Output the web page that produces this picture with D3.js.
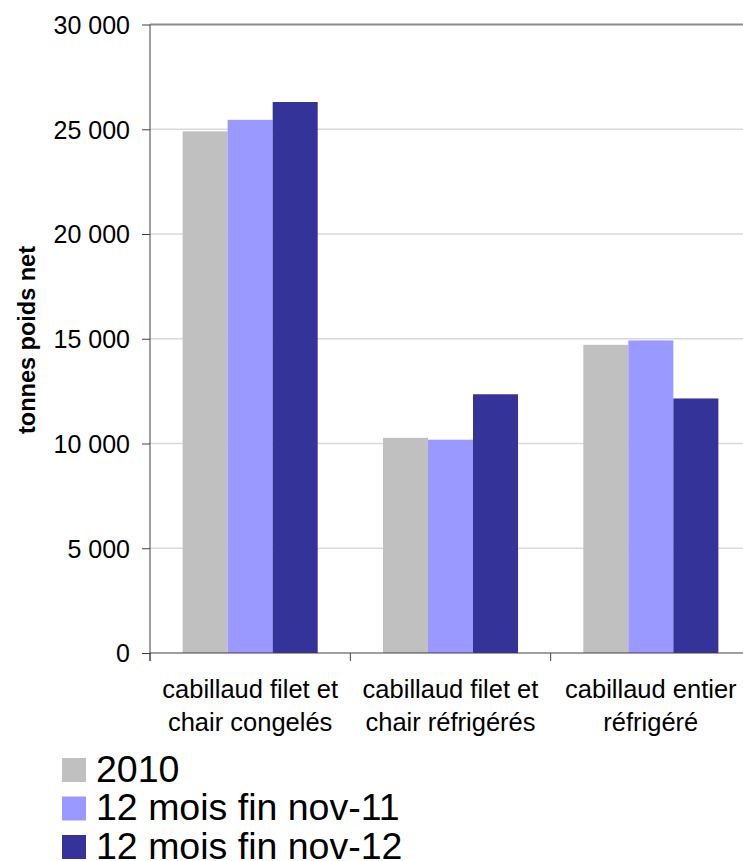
<!DOCTYPE html>
<html>
<head>
<meta charset="utf-8">
<script src="https://cdn.jsdelivr.net/npm/d3@7"></script>
<style>
  html, body { margin: 0; padding: 0; background: #ffffff; }
  svg { display: block; font-family: "Liberation Sans", Arial, sans-serif; }
</style>
</head>
<body>
<svg id="chart" width="743" height="861"></svg>
<script>
// ---- data ----
const categories = [
  ["cabillaud filet et", "chair congelés"],
  ["cabillaud filet et", "chair réfrigérés"],
  ["cabillaud entier", "réfrigéré"]
];
const seriesNames = ["2010", "12 mois fin nov-11", "12 mois fin nov-12"];
const values2010 = [24900, 10270, 14710];
const valuesNov11 = [25450, 10180, 14920];
const valuesNov12 = [26300, 12350, 12150];
const seriesColors = ["#C0C0C0", "#9999FF", "#333399"];
const yTicks = [0, 5000, 10000, 15000, 20000, 25000, 30000];
const yTitle = "tonnes poids net";

const seriesValues = [values2010, valuesNov11, valuesNov12];

// ---- layout ----
const svg = d3.select("#chart");
const plotLeft = 150, plotRight = 751, plotTop = 24.5, plotBottom = 653;

const catKeys = categories.map((c, i) => i);
const x0 = d3.scaleBand().domain(catKeys).range([plotLeft, plotRight]).paddingInner(0).paddingOuter(0);
const x1 = d3.scaleBand().domain(d3.range(seriesNames.length)).range([0, x0.bandwidth()])
  .paddingInner(0).paddingOuter(0.725);
const y = d3.scaleLinear().domain([0, 30000]).range([plotBottom, plotTop]);

const loc = d3.formatLocale({ decimal: ",", thousands: " ", grouping: [3], currency: ["", ""] });
const fmt = loc.format(",");

// gridlines
svg.append("g").selectAll("line").data(yTicks.filter(t => t > 0 && t < 30000)).join("line")
  .attr("x1", plotLeft).attr("x2", plotRight)
  .attr("y1", d => y(d)).attr("y2", d => y(d))
  .attr("stroke", "#d9d9d9").attr("stroke-width", 1.5);
// top border line
svg.append("line").attr("x1", plotLeft).attr("x2", plotRight)
  .attr("y1", y(30000)).attr("y2", y(30000))
  .attr("stroke", "#8c8c8c").attr("stroke-width", 2);

// bars
const groups = svg.append("g").selectAll("g").data(catKeys).join("g")
  .attr("transform", d => `translate(${x0(d)},0)`);
groups.selectAll("rect")
  .data(ci => seriesValues.map((vals, si) => ({ si, v: vals[ci] })))
  .join("rect")
  .attr("x", d => x1(d.si))
  .attr("width", x1.bandwidth())
  .attr("y", d => y(d.v))
  .attr("height", d => y(0) - y(d.v))
  .attr("fill", d => seriesColors[d.si]);

// y axis
const yAxis = d3.axisLeft(y).tickValues(yTicks).tickFormat(fmt).tickSize(8).tickPadding(12);
const gy = svg.append("g").attr("transform", `translate(${plotLeft},0)`).call(yAxis);
gy.select(".domain").attr("stroke", "#404040").attr("d", `M0,${plotTop}V${plotBottom + 8}`);
gy.selectAll(".tick line").attr("stroke", "#404040");
gy.selectAll(".tick text").attr("font-size", 25).attr("fill", "#000")
  .attr("font-family", "'Liberation Sans', Arial, sans-serif").attr("dy", "0.35em");

// x axis line and category ticks
const xTickPos = catKeys.map(k => x0(k)).concat([plotRight]);
svg.append("line").attr("x1", plotLeft).attr("x2", plotRight).attr("y1", plotBottom).attr("y2", plotBottom)
  .attr("stroke", "#404040").attr("stroke-width", 1);
svg.append("g").selectAll("line").data(xTickPos).join("line")
  .attr("x1", d => d).attr("x2", d => d).attr("y1", plotBottom).attr("y2", plotBottom + 8)
  .attr("stroke", "#404040");

// category labels
const catText = svg.append("g").selectAll("text").data(catKeys).join("text")
  .attr("x", d => x0(d) + x0.bandwidth() / 2)
  .attr("y", 698)
  .attr("text-anchor", "middle")
  .attr("font-size", 25.5)
  .attr("fill", "#000");
catText.selectAll("tspan").data(d => categories[d]).join("tspan")
  .attr("x", function () { return d3.select(this.parentNode).attr("x"); })
  .attr("dy", (d, i) => i === 0 ? 0 : 33)
  .text(d => d);

// y title
svg.append("text")
  .attr("transform", `translate(35,340) rotate(-90)`)
  .attr("text-anchor", "middle")
  .attr("font-size", 23.5)
  .attr("font-weight", "bold")
  .attr("fill", "#000")
  .text(yTitle);

// legend
const legend = svg.append("g").selectAll("g").data(seriesNames).join("g")
  .attr("transform", (d, i) => `translate(62,${758 + i * 38.5})`);
legend.append("rect").attr("width", 24).attr("height", 24)
  .attr("fill", (d, i) => seriesColors[i]);
legend.append("text").attr("x", 34).attr("y", 23.5).attr("font-size", 37.5)
  .attr("fill", "#000").text(d => d);
</script>
</body>
</html>
